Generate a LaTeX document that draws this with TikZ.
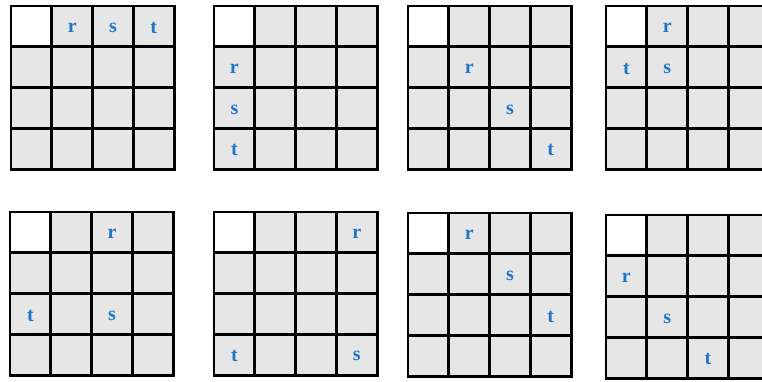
\documentclass[tikz,border=0pt]{standalone}
\usepackage{fontspec}
\setmainfont{Liberation Serif}
\definecolor{cellgray}{RGB}{230,230,230}
\definecolor{letterblue}{RGB}{30,118,200}
\tikzset{
  cell/.style={draw=black, line width=2.7pt, minimum size=40.8pt, inner sep=0pt, outer sep=0pt},
  letter/.style={text=letterblue, font=\fontsize{20}{20}\selectfont\bfseries, inner sep=0pt}
}
\begin{document}
\begin{tikzpicture}[x=1pt,y=-1pt]
\useasboundingbox (0,0) rectangle (762,381);
\foreach \g/\ox/\oy in {1/11/6,2/214/6,3/408/6,4/606/6,5/10/212,6/214/212,7/408/213,8/606/215}{
  \foreach \r in {0,...,3}{
    \foreach \c in {0,...,3}{
      \ifnum\r\c=0 \def\fc{white}\else\def\fc{cellgray}\fi
      \node[cell, fill=\fc] (g\g-\r-\c) at ({\ox+(\c+0.5)*40.8},{\oy+(\r+0.5)*40.8}) {};
    }
  }
}
\foreach \g/\r/\c/\l in {1/0/1/r,1/0/2/s,1/0/3/t,
  2/1/0/r,2/2/0/s,2/3/0/t,
  3/1/1/r,3/2/2/s,3/3/3/t,
  4/0/1/r,4/1/1/s,4/1/0/t,
  5/0/2/r,5/2/2/s,5/2/0/t,
  6/0/3/r,6/3/3/s,6/3/0/t,
  7/0/1/r,7/1/2/s,7/2/3/t,
  8/1/0/r,8/2/1/s,8/3/2/t}{
  \node[letter] (L\g\l) at ([yshift=-1.5pt]g\g-\r-\c) {\l};
}
\end{tikzpicture}
\end{document}
